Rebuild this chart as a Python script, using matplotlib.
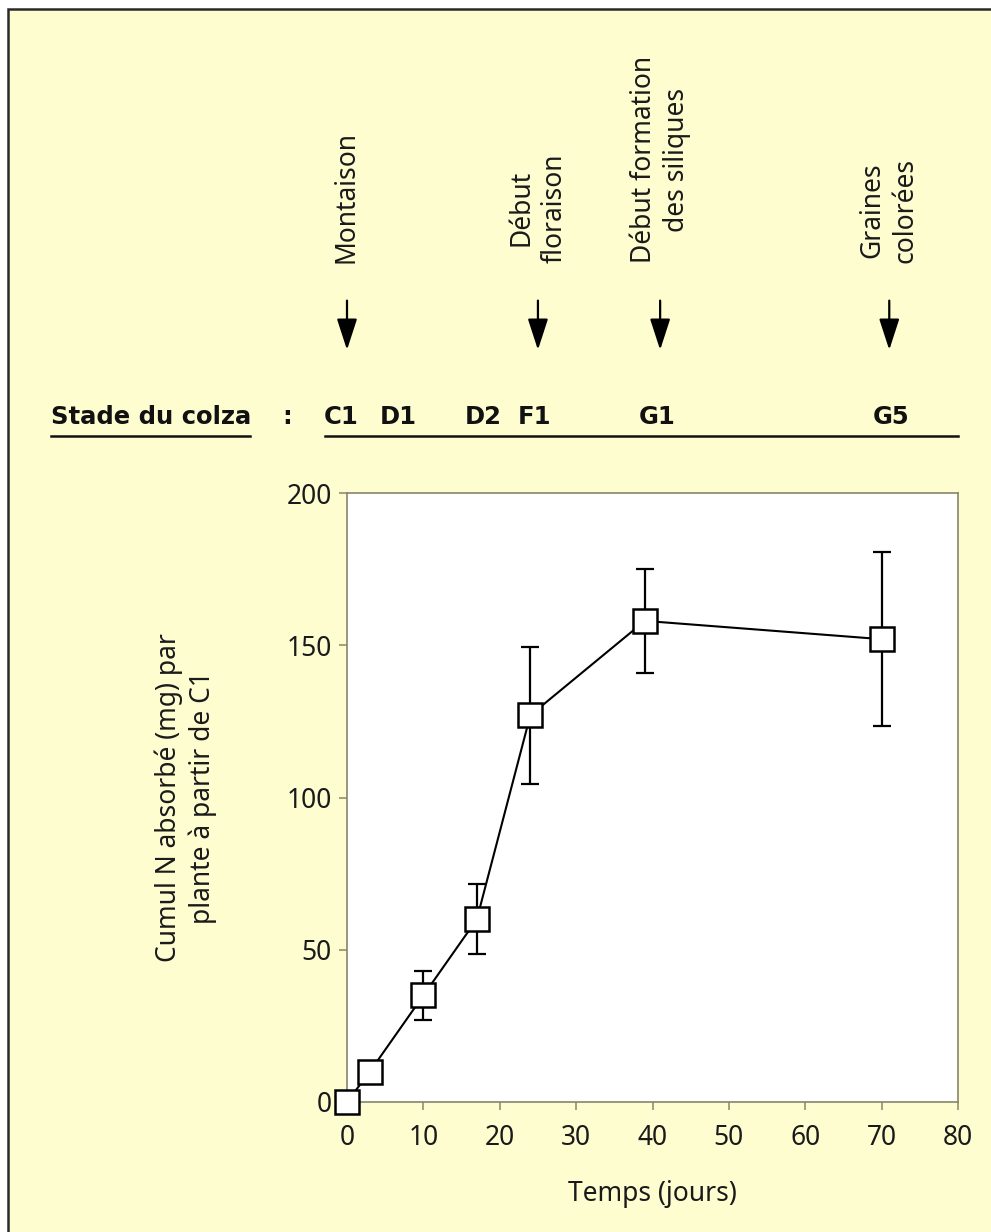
import matplotlib
matplotlib.use("Agg")
import matplotlib.pyplot as plt
from matplotlib.transforms import blended_transform_factory
from matplotlib.patches import Rectangle
from matplotlib.lines import Line2D

# données
temps = [0, 3, 10, 17, 24, 39, 70]
cumul_n = [0, 10, 35, 60, 127, 158, 152]
erreur = [0, 0, 8, 11.5, 22.5, 17, 28.5]

evenements = ["Montaison", "Début\nfloraison", "Début formation\ndes siliques", "Graines\ncolorées"]
evenements_x = [0, 25, 41, 71]

stades = ["C1", "D1", "D2", "F1", "G1", "G5"]
stades_x = [-0.8, 6.7, 17.8, 24.5, 40.6, 71.2]

xticks = [0, 10, 20, 30, 40, 50, 60, 70, 80]
yticks = [0, 50, 100, 150, 200]

plt.rcParams['font.family'] = ['Noto Sans', 'DejaVu Sans']

fond = '#fefdd0'
cadre = '#86866a'
encre = '#1a1a1a'

fig = plt.figure(figsize=(9.91, 12.32), dpi=100, facecolor='white')
fig.patches.append(Rectangle((8 / 991, -0.05), 1.1, 0.05 + 1 - 9 / 1232,
                             transform=fig.transFigure, facecolor=fond,
                             edgecolor='#2a2a2a', lw=1.8, zorder=-10))

ax = fig.add_axes([347 / 991, 130 / 1232, 611 / 991, 609 / 1232])
ax.set_facecolor('white')

ax.errorbar(temps, cumul_n, yerr=erreur, fmt='none', ecolor='black',
            elinewidth=1.6, capsize=6.5, capthick=1.6, zorder=2, clip_on=False)
ax.plot(temps, cumul_n, color='black', lw=1.5, marker='s', markersize=17.5,
        markerfacecolor='white', markeredgecolor='black', markeredgewidth=1.8,
        zorder=3, clip_on=False)

ax.set_xlim(0, 80)
ax.set_ylim(0, 200)
ax.set_xticks(xticks)
ax.set_yticks(yticks)
ax.tick_params(direction='out', length=6, width=1.1, color=cadre,
               labelsize=19, pad=5, labelcolor=encre)
ax.tick_params(axis='x', pad=10)
for s in ax.spines.values():
    s.set_color(cadre)
    s.set_linewidth(1.2)

ax.set_xlabel('Temps (jours)', fontsize=19, labelpad=20, color=encre)
ax.set_ylabel('Cumul N absorbé (mg) par\nplante à partir de C1', fontsize=19,
              labelpad=50, color=encre, linespacing=1.25)

# échelle des stades au-dessus du graphique
tr = blended_transform_factory(ax.transData, fig.transFigure)

for lab, xv in zip(evenements, evenements_x):
    ax.text(xv, 0.7865, lab, transform=tr, rotation=90, ha='center', va='bottom',
            multialignment='center', fontsize=19, color=encre, linespacing=1.25,
            clip_on=False)
    ax.annotate('', xy=(xv, 0.716), xytext=(xv, 0.756), xycoords=tr, textcoords=tr,
                arrowprops=dict(arrowstyle='-|>,head_length=0.8,head_width=0.26',
                                lw=1.6, color='black', mutation_scale=24,
                                shrinkA=0, shrinkB=0))

for lab, xv in zip(stades, stades_x):
    ax.text(xv, 0.6615, lab, transform=tr, ha='center', va='center', fontsize=17.5,
            fontweight='bold', family='DejaVu Sans', color='#111111', clip_on=False)

fig.text(51 / 991, 0.6615, 'Stade du colza', ha='left', va='center', fontsize=17.5,
         fontweight='bold', family='DejaVu Sans', color='#111111')
fig.text(287 / 991, 0.6615, ':', ha='center', va='center', fontsize=17.5,
         fontweight='bold', family='DejaVu Sans', color='#111111')
fig.lines.append(Line2D([51 / 991, 250 / 991], [0.646, 0.646], transform=fig.transFigure,
                        color='#111111', lw=1.8))
fig.lines.append(Line2D([325 / 991, 958 / 991], [0.646, 0.646], transform=fig.transFigure,
                        color='#111111', lw=1.8))

fig.savefig('out.png', dpi=100, facecolor=fig.get_facecolor())
